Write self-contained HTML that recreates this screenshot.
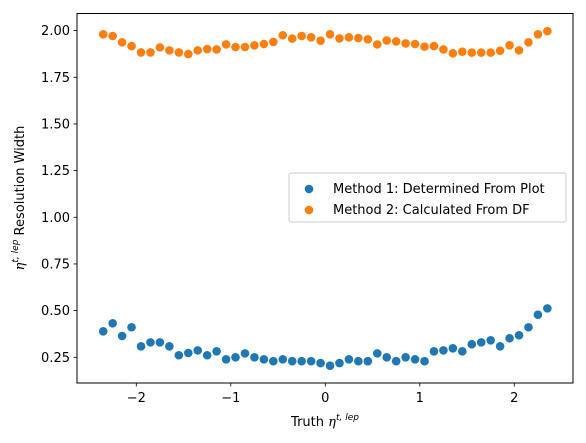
<!DOCTYPE html>
<html><head><meta charset="utf-8"><style>
html,body{margin:0;padding:0;background:#fff}
svg{display:block;font-family:"DejaVu Sans","Liberation Sans",sans-serif}
</style></head><body>
<svg id="chart" width="586" height="443" viewBox="0 0 586 443" xmlns="http://www.w3.org/2000/svg"></svg>
<script>
const etaBins = [-2.35,-2.25,-2.15,-2.05,-1.95,-1.85,-1.75,-1.65,-1.55,-1.45,-1.35,-1.25,-1.15,-1.05,-0.95,-0.85,-0.75,-0.65,-0.55,-0.45,-0.35,-0.25,-0.15,-0.05,0.05,0.15,0.25,0.35,0.45,0.55,0.65,0.75,0.85,0.95,1.05,1.15,1.25,1.35,1.45,1.55,1.65,1.75,1.85,1.95,2.05,2.15,2.25,2.35];
const method1 = [0.389,0.432,0.364,0.411,0.309,0.330,0.330,0.309,0.261,0.273,0.287,0.261,0.282,0.239,0.250,0.271,0.250,0.239,0.229,0.239,0.229,0.229,0.229,0.219,0.205,0.219,0.239,0.229,0.229,0.271,0.250,0.229,0.250,0.239,0.229,0.282,0.287,0.298,0.282,0.320,0.330,0.341,0.309,0.352,0.368,0.411,0.478,0.512];
const method2 = [1.980,1.971,1.937,1.917,1.883,1.883,1.910,1.894,1.883,1.874,1.894,1.901,1.899,1.926,1.912,1.912,1.921,1.928,1.939,1.975,1.957,1.971,1.964,1.946,1.980,1.958,1.964,1.960,1.953,1.926,1.947,1.942,1.931,1.928,1.914,1.917,1.899,1.878,1.887,1.882,1.882,1.882,1.892,1.921,1.894,1.937,1.980,1.997];
const yTicks = [0.25,0.50,0.75,1.00,1.25,1.50,1.75,2.00];
const yTickLabels = ["0.25","0.50","0.75","1.00","1.25","1.50","1.75","2.00"];
const xTicks = [-2,-1,0,1,2];
const xTickLabels = ["\u22122","\u22121","0","1","2"];

const NS="http://www.w3.org/2000/svg";
const svg=document.getElementById('chart');
const L=77,R=573,T=13.5,B=383;
const xs=v=>325.3+v*94.5;
const ys=v=>357.3-(v-0.25)*186.7;
function mk(tag,attrs,parent){const e=document.createElementNS(NS,tag);for(const k in attrs)e.setAttribute(k,attrs[k]);(parent||svg).appendChild(e);return e;}

const pts=mk('g',{});


etaBins.forEach((x,i)=>{
  const c=mk('circle',{cx:xs(x),cy:ys(method1[i]),r:4.3,fill:'#1f77b4'},pts);
  
  
});
etaBins.forEach((x,i)=>{
  const c=mk('circle',{cx:xs(x),cy:ys(method2[i]),r:4.3,fill:'#ff7f0e'},pts);
  
  
});

const frame=mk('rect',{x:L,y:T,width:R-L,height:B-T,fill:'none',stroke:'#000','stroke-width':1});



yTicks.forEach((v,i)=>{
  const y=ys(v);
  const t=mk('line',{x1:L-3.5,x2:L,y1:y,y2:y,stroke:'#000','stroke-width':0.8});
  
  
  const tx=mk('text',{x:L-7,y:y+4.5,'text-anchor':'end','font-size':'13px',fill:'#000'});
  tx.textContent=yTickLabels[i];
  
  
});
xTicks.forEach((v,i)=>{
  const x=xs(v);
  const t=mk('line',{x1:x,x2:x,y1:B,y2:B+3.5,stroke:'#000','stroke-width':0.8});
  
  
  const tx=mk('text',{x:x,y:B+19,'text-anchor':'middle','font-size':'13px',fill:'#000'});
  tx.textContent=xTickLabels[i];
  
  
});
</script>
<svg style="position:absolute;left:0;top:0" width="586" height="443" xmlns="http://www.w3.org/2000/svg" font-family="DejaVu Sans, Liberation Sans, sans-serif">
  <text x="325" y="426" text-anchor="middle" font-size="13">Truth <tspan font-style="italic" font-family="DejaVu Serif, serif">η</tspan><tspan font-size="9" dy="-6" font-style="italic">t, lep</tspan></text>
  <text transform="translate(24,198) rotate(-90)" text-anchor="middle" font-size="13"><tspan font-style="italic" font-family="DejaVu Serif, serif">η</tspan><tspan font-size="9" dy="-6" font-style="italic">t, lep</tspan><tspan dy="6"> Resolution Width</tspan></text>
  <g>
    <rect x="289" y="173" width="277" height="49" rx="2" fill="#fff" fill-opacity="0.8" stroke="#ccc" stroke-width="1"/>
    <circle cx="309" cy="189" r="4.3" fill="#1f77b4"/>
    <text x="333" y="193" font-size="13">Method 1: Determined From Plot</text>
    <circle cx="309" cy="210" r="4.3" fill="#ff7f0e"/>
    <text x="333" y="214" font-size="13">Method 2: Calculated From DF</text>
  </g>
</svg>
</body></html>
